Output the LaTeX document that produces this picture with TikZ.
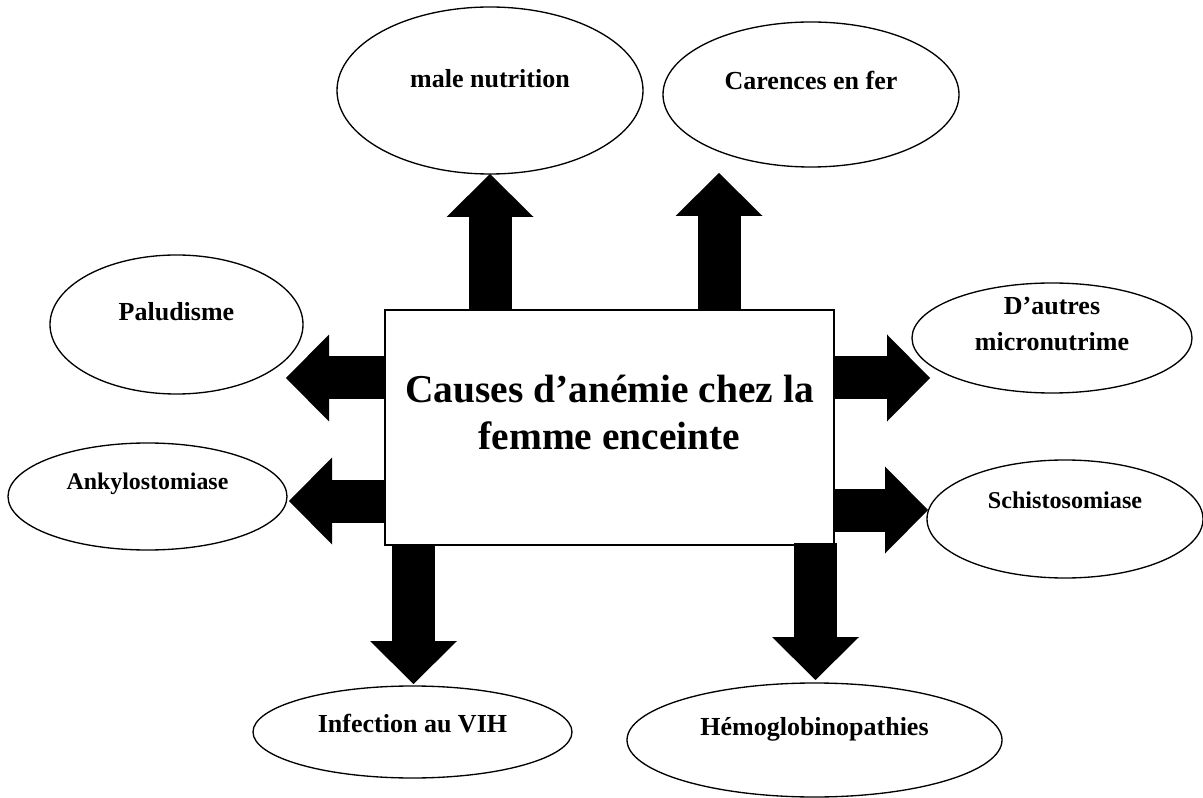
\documentclass[tikz,border=0pt]{standalone}
\usepackage{fontspec}
\setmainfont{Liberation Serif}
\usetikzlibrary{arrows.meta, shapes.geometric}

\begin{document}
\begin{tikzpicture}[
  x=0.75pt, y=-0.75pt,
  cbox/.style={draw,line width=1.3pt,minimum width=336.75pt,minimum height=176.25pt,
    inner sep=0pt,text height=0pt,align=center,
    font=\fontsize{29.6}{35.3}\selectfont\bfseries},
  ebox/.style={draw,ellipse,line width=1pt,inner sep=0pt,text height=0pt,
    align=center,font=\fontsize{19.5}{27}\selectfont\bfseries},
  barr/.style={line width=32.25pt,
    -{Triangle[width=65.25pt,length=32.25pt,line width=0pt]}},
]
\useasboundingbox (0,0) rectangle (1203,798);

% Centre
\node[cbox,text height=33.75pt,text depth=0pt] (main) at (609.5,427.5)
  {Causes d’anémie chez la\\femme enceinte};

% Causes (top)
\node[ebox,minimum width=229.5pt,minimum height=125.25pt,text depth=3.8pt]
  (malnut) at (490,90.5) {male nutrition};
\node[ebox,minimum width=222pt,minimum height=108.75pt,text depth=6.8pt]
  (fer) at (811,94.5) {Carences en fer};

% Causes (left)
\node[ebox,minimum width=189.75pt,minimum height=104.25pt,text depth=5.3pt]
  (palu) at (176.5,324.5) {Paludisme};
\node[ebox,minimum width=209.25pt,minimum height=80.25pt,text depth=9.8pt,
  font=\fontsize{17.9}{21}\selectfont\bfseries]
  (ankylo) at (147.5,496.5) {Ankylostomiase};

% Causes (right)
\node[ebox,minimum width=210pt,minimum height=82.5pt,text height=19.5pt,
  text depth=0pt]
  (autres) at (1052,338) {D’autres\\micronutrime};
\node[ebox,minimum width=207pt,minimum height=88.5pt,text depth=16.5pt,
  font=\fontsize{18.1}{21}\selectfont\bfseries]
  (schisto) at (1065,519) {Schistosomiase};

% Causes (bottom)
\node[ebox,minimum width=239.25pt,minimum height=69pt,text depth=0pt]
  (vih) at (412.5,732) {Infection au VIH};
\node[ebox,minimum width=281.25pt,minimum height=85.5pt,text depth=7.5pt]
  (hemo) at (814.5,740) {Hémoglobinopathies};

% Arrow tips
\coordinate (tmal) at (490,174);
\coordinate (tfer) at (719,173);
\coordinate (tpal) at (286,378);
\coordinate (tank) at (289,501);
\coordinate (taut) at (930,378);
\coordinate (tsch) at (928,510);
\coordinate (tvih) at (413.5,684);
\coordinate (themo) at (815.5,680);

% Arrows
\draw[barr] (main.north -| tmal) -- (tmal);
\draw[barr] (main.north -| tfer) -- (tfer);
\draw[barr] (main.west |- tpal) -- (tpal);
\draw[barr] (main.west |- tank) -- (tank);
\draw[barr] (main.east |- taut) -- (taut);
\draw[barr] (main.east |- tsch) -- (tsch);
\draw[barr] (main.south -| tvih) -- (tvih);
\draw[barr] ([yshift=2.25pt]main.south -| themo) -- (themo);

\end{tikzpicture}
\end{document}
